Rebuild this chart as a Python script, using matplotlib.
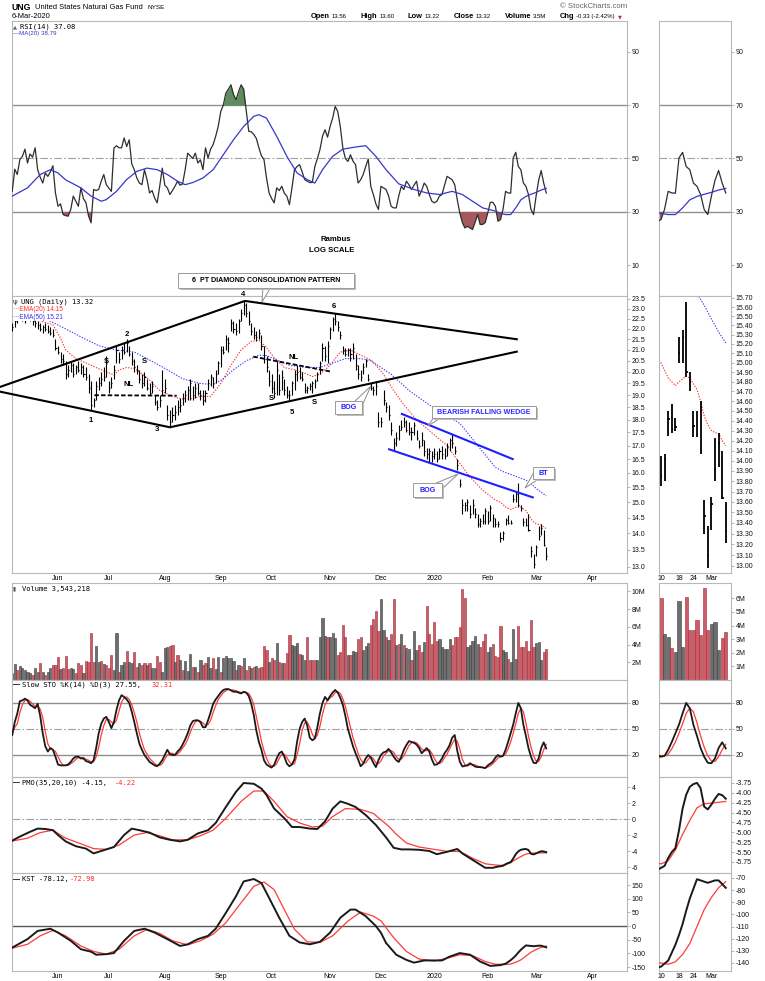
import numpy as np
import matplotlib
matplotlib.use("Agg")
import matplotlib.pyplot as plt
from matplotlib.patches import Rectangle, Polygon
from matplotlib.ticker import NullLocator

W, H = 765, 981
plt.rcParams['font.family'] = ['Liberation Sans', 'DejaVu Sans']
plt.rcParams['axes.unicode_minus'] = False

# trading-day index: 0 = 3-Jun-2019, first bar 18 sessions earlier, last bar 6-Mar-2020
first_bar = -18

highs = [
    # May 2019
    22.3, 22.5, 22.7, 22.9, 22.8, 22.7, 22.9, 22.8, 22.6, 22.5, 22.4, 22.3, 22.2, 22.3, 22.2, 22.1, 22.0, 21.5,
    # Jun
    21.2, 20.9, 20.8, 20.5, 20.3, 20.5, 20.4, 20.3, 20.5, 20.4, 20.3, 20.2, 19.9, 19.6, 18.9, 19.6, 19.8, 20.0, 20.2, 20.7,
    # Jul
    19.6, 19.8, 20.3, 21.2, 20.9, 21.2, 21.3, 21.5, 21.2, 20.9, 20.6, 20.3, 20.1, 19.9, 20.0, 19.7, 19.5, 19.6, 19.0, 18.8, 19.0, 20.1,
    # Aug
    19.7, 18.6, 18.4, 18.5, 18.6, 18.8, 18.9, 19.1, 19.2, 19.4, 19.7, 19.4, 19.5, 19.5, 19.2, 19.2, 19.2, 19.7, 19.9, 19.8, 20.1, 20.5,
    # Sep
    21.2, 21.2, 21.7, 21.6, 22.5, 22.4, 22.3, 22.5, 23.0, 23.4, 23.3, 22.9, 22.3, 22.1, 21.9, 22.0, 21.7, 21.2, 20.7, 20.1,
    # Oct
    19.9, 19.6, 20.5, 19.9, 20.1, 19.7, 19.4, 19.2, 19.6, 20.1, 20.3, 20.2, 20.0, 19.5, 19.4, 19.5, 19.6, 19.7, 20.0, 20.5, 21.3, 21.2, 21.4,
    # Nov
    22.1, 22.6, 22.8, 22.4, 21.9, 21.2, 21.1, 21.1, 21.1, 21.3, 20.8, 20.3, 20.1, 20.4, 20.6, 19.9, 19.5, 19.4, 19.6, 18.3,
    # Dec
    18.1, 19.2, 18.7, 18.6, 17.9, 17.3, 17.5, 17.8, 18.0, 18.1, 18.0, 17.9, 17.7, 17.9, 17.6, 17.2, 17.5, 17.2, 16.9, 16.9, 16.8,
    # Jan 2020
    16.9, 16.8, 16.9, 17.0, 16.9, 17.1, 17.3, 17.45, 17.0, 16.5, 15.8, 15.1, 15.0, 15.1, 14.9, 15.1, 14.8, 14.6, 14.5, 14.6, 14.8,
    # Feb
    14.7, 14.9, 14.6, 14.5, 14.4, 14.05, 14.07, 14.5, 14.57, 14.43, 15.27, 15.35, 15.66, 14.9, 14.5, 14.5, 14.6, 13.62, 13.37,
    # Mar
    13.65, 14.23, 14.28, 14.1, 13.6]

lows = [
    21.9, 22.1, 22.3, 22.5, 22.4, 22.3, 22.5, 22.4, 22.2, 22.1, 22.0, 21.9, 21.8, 21.9, 21.8, 21.7, 21.6, 21.0,
    20.8, 20.4, 20.3, 19.7, 19.8, 20.0, 19.8, 19.9, 20.0, 19.9, 19.8, 19.65, 19.1, 18.4, 18.5, 18.8, 19.2, 19.4, 19.6, 19.8,
    19.1, 19.3, 19.7, 20.4, 20.4, 20.6, 20.8, 20.9, 20.7, 20.3, 20.0, 19.9, 19.5, 19.3, 19.4, 19.2, 19.0, 19.1, 18.6, 18.4, 18.5, 19.0,
    19.1, 18.0, 17.7, 17.9, 18.0, 18.2, 18.3, 18.6, 18.7, 18.8, 18.8, 18.8, 18.9, 19.0, 18.8, 18.6, 18.7, 19.2, 19.4, 19.3, 19.5, 19.9,
    20.2, 20.8, 21.0, 20.9, 21.9, 21.8, 21.7, 21.8, 22.4, 22.7, 22.6, 22.2, 21.7, 21.5, 21.4, 21.5, 21.0, 20.4, 20.0, 19.4,
    19.1, 18.9, 19.0, 19.0, 19.2, 19.0, 18.9, 18.8, 19.0, 19.2, 19.6, 19.7, 19.6, 19.1, 19.1, 19.2, 19.1, 19.3, 19.6, 19.9, 20.5, 20.5, 20.4,
    21.5, 21.9, 22.2, 21.9, 21.5, 20.8, 20.7, 20.7, 20.5, 20.6, 20.1, 19.7, 19.6, 19.9, 20.2, 19.6, 19.2, 19.0, 19.0, 17.7,
    17.7, 18.6, 18.3, 18.0, 17.4, 16.8, 17.0, 17.2, 17.6, 17.7, 17.5, 17.4, 17.2, 17.4, 17.2, 16.9, 17.0, 16.6, 16.5, 16.4, 16.4,
    16.5, 16.4, 16.5, 16.5, 16.5, 16.6, 16.8, 16.9, 16.7, 16.1, 15.5, 14.6, 14.7, 14.7, 14.5, 14.6, 14.5, 14.2, 14.2, 14.3, 14.3,
    14.3, 14.4, 14.2, 14.2, 14.2, 13.75, 13.8, 14.25, 14.28, 14.3, 15.0, 15.0, 14.85, 14.7, 14.24, 14.24, 14.07, 13.3, 12.98,
    13.33, 13.8, 13.94, 13.63, 13.21]

closes = [
    22.1, 22.4, 22.6, 22.8, 22.5, 22.6, 22.7, 22.5, 22.4, 22.3, 22.2, 22.0, 22.1, 22.0, 21.9, 21.8, 21.7, 21.1,
    20.9, 20.6, 20.5, 19.9, 20.1, 20.3, 19.9, 20.2, 20.1, 20.2, 19.9, 19.8, 19.3, 18.6, 18.8, 19.4, 19.5, 19.7, 19.8, 20.4,
    19.3, 19.5, 20.1, 21.0, 20.6, 21.0, 20.9, 21.3, 20.8, 20.5, 20.2, 20.1, 19.7, 19.5, 19.8, 19.3, 19.1, 19.4, 18.7, 18.5, 18.8, 19.2,
    19.3, 18.2, 17.9, 18.2, 18.3, 18.5, 18.6, 18.9, 19.0, 19.2, 19.5, 19.0, 19.3, 19.1, 19.0, 18.8, 19.1, 19.5, 19.8, 19.5, 19.9, 20.4,
    21.0, 20.9, 21.5, 21.3, 22.3, 22.0, 21.9, 22.4, 22.8, 23.2, 22.8, 22.4, 21.9, 21.7, 21.6, 21.8, 21.2, 20.6, 20.2, 19.6,
    19.3, 19.1, 20.1, 19.2, 19.8, 19.2, 19.0, 19.0, 19.5, 19.9, 20.0, 19.8, 19.7, 19.2, 19.3, 19.4, 19.5, 19.6, 19.9, 20.4, 21.1, 20.7, 21.2,
    22.0, 22.5, 22.4, 22.1, 21.7, 21.0, 20.8, 21.0, 20.8, 21.1, 20.3, 19.9, 19.8, 20.2, 20.5, 19.7, 19.3, 19.2, 19.4, 17.9,
    17.9, 18.8, 18.5, 18.2, 17.6, 17.1, 17.3, 17.6, 17.7, 17.9, 17.6, 17.5, 17.5, 17.8, 17.3, 17.0, 17.2, 16.8, 16.7, 16.8, 16.6,
    16.7, 16.5, 16.8, 16.7, 16.6, 17.0, 17.2, 17.1, 16.8, 16.3, 15.6, 14.9, 14.9, 15.0, 14.6, 14.9, 14.6, 14.3, 14.4, 14.4, 14.7,
    14.4, 14.8, 14.5, 14.3, 14.3, 13.85, 14.02, 14.42, 14.32, 14.34, 15.1, 15.27, 14.9, 14.8, 14.35, 14.27, 14.1, 13.47, 13.1,
    13.58, 13.92, 14.18, 13.64, 13.32]

# volume in millions of shares, and bar colour (g = up day, r = down day)
volume = [
    0.75, 1.77, 1.13, 1.58, 1.32, 1.13, 0.94, 0.75, 0.56, 1.39, 0.94, 1.88, 0.94, 0.56, 0.94, 1.32, 1.69, 1.69,
    2.63, 1.2, 1.32, 2.7, 1.24, 1.32, 1.24, 0.75, 1.88, 1.69, 0.75, 2.18, 2.0, 5.34, 2.07, 3.87, 2.0, 2.14, 1.77, 1.69,
    1.32, 2.8, 1.13, 5.34, 0.94, 1.69, 2.0, 3.3, 2.0, 1.88, 3.1, 1.5, 1.88, 1.69, 1.88, 1.69, 1.88, 1.39, 1.32, 2.74, 2.0, 0.94,
    3.57, 3.76, 3.83, 3.95, 2.0, 2.82, 2.26, 1.13, 2.14, 1.05, 2.9, 1.5, 1.5, 0.94, 2.26, 1.69, 1.88, 2.63, 1.32, 2.44, 1.2, 2.63,
    0.94, 2.44, 2.7, 2.52, 2.44, 2.14, 1.13, 1.69, 1.58, 2.44, 1.13, 1.58, 1.32, 1.5, 1.58, 1.32, 1.5, 3.87, 3.38, 2.0,
    2.44, 2.26, 4.14, 2.0, 1.88, 1.88, 3.0, 5.08, 3.95, 3.83, 4.14, 2.9, 2.82, 2.26, 4.9, 2.26, 2.26, 2.26, 2.26, 4.9, 6.95, 4.96, 4.9,
    4.8, 5.34, 4.7, 2.82, 3.2, 6.2, 4.8, 2.82, 2.82, 3.27, 3.2, 4.6, 4.9, 3.38, 3.83, 4.14, 6.2, 6.84, 7.8, 5.5,
    9.1, 5.6, 4.9, 4.5, 5.2, 9.1, 3.95, 4.1, 5.2, 3.95, 3.57, 3.5, 2.2, 5.5, 3.4, 3.95, 3.2, 4.25, 8.3, 5.2, 4.1,
    6.5, 4.4, 4.6, 3.7, 3.5, 3.5, 4.6, 3.9, 4.85, 4.9, 6.0, 10.3, 9.2, 3.7, 3.9, 4.4, 5.0, 4.1, 3.7, 4.4, 5.2,
    3.2, 3.7, 4.1, 2.7, 2.6, 6.04, 3.4, 3.14, 2.33, 2.03, 5.8, 2.4, 6.1, 3.7, 3.69, 4.43, 3.32, 6.73, 3.71,
    4.13, 4.3, 2.23, 3.12, 3.54]
vol_dir = ("ggrgggggrggrgrggrr" "rgrrrggrrrgrrrrggrgr" "rrggrggrggrrgrrgrggrrg"
           "ggrrgrgrgggrgrgrrggrgg" "rgggggrgrgrrgrgrrrrg" "rrgrgrrrgggrggrrrrggggr"
           "gggrrrrgrggrrgggrrrr" "ggrgrrgrgrggrggrrgrrr" "rrgggggrrrrrrgggggrrr"
           "ggrrrrggrgggrrrrrrr" "gggrr")

rsi = [
    37.7, 46, 44, 49.6, 50.8, 53.5, 48.3, 51.7, 50.5, 54, 45.8, 43, 40.8, 44.6, 43.3, 45, 47.3, 37.1,
    32.1, 33, 29, 28.6, 28.4, 30.9, 35.9, 34, 32.1, 39, 35, 33.4, 28.5, 25.9, 38.4, 38, 38.4, 41.5, 44, 40.2,
    38.9, 37.7, 53.9, 54.8, 54, 54, 57.7, 54.5, 57, 48, 45.8, 42.7, 40.8, 40.2, 45.8, 42.1, 37.1, 38, 35.2, 33.4, 39.6, 46.4,
    40, 39, 36.5, 38, 39.6, 41.5, 40, 40.5, 45.8, 52, 51, 50, 52, 48.3, 49.5, 45.8, 54, 50.2, 53.5, 55.2, 58.3, 62,
    67.6, 70, 74.5, 76, 77.6, 74, 72, 75, 77.6, 76, 68, 60.2, 60, 59, 57.5, 54, 51, 49.6, 42.7, 37.1,
    35, 33.4, 39, 38, 39.6, 37, 35.9, 32.7, 39, 45.8, 47, 47.7, 45, 42.1, 41.5, 41, 41, 47, 50, 53.3, 58.3, 60.8, 58,
    62, 65.1, 69.5, 67.6, 62, 54, 50, 48.9, 51.4, 49, 47.7, 40.8, 42, 44, 47, 49.8, 39.6, 36.5, 33, 30.9,
    39.6, 39, 38.4, 36, 32.1, 31.5, 31.5, 36, 39.6, 38.4, 41.5, 40.2, 38.4, 40, 41.5, 35.9, 38, 40.8, 39.6, 36.5, 34,
    33.4, 34, 35.9, 36.5, 40, 43.3, 42.7, 42, 40.2, 34.6, 29.6, 26, 24, 24.6, 24, 23.4, 26, 29, 25.3, 25.3, 26,
    29.6, 33.6, 33.6, 32.1, 26.5, 27.1, 31, 37.7, 37.1, 37, 50.2, 52.3, 47, 45.8, 40.8, 39.6, 36.5, 30.9, 29,
    35.9, 41.8, 45.5, 40.8, 37.08]
rsi_ma_idx = [-18, -12, -7, -3, 0, 3, 9, 13, 17, 19, 23, 27, 31, 35, 39, 43, 47, 50, 53, 57,
              61, 65, 69, 73, 77, 79, 82, 86, 90, 94, 98, 101, 104, 108, 112, 117, 121, 125, 129, 134,
              140, 145, 150, 155, 159, 163, 167, 172, 174, 176, 178, 180, 182, 184, 186, 188, 190, 192]
rsi_ma = [35.9, 39, 44, 45.8, 44.6, 42, 39, 35.9, 34, 34.6, 37.7, 42.1, 45.2, 46.4, 45.8, 44, 41.5, 40.2, 41, 42.7,
          45.8, 51.4, 57, 62, 65.8, 66.4, 65.1, 58.3, 50.8, 44.6, 42.1, 40.8, 45.8, 50.8, 53.5, 54.3, 54.8, 50.8, 45.8, 40.5,
          38.4, 37.1, 36.5, 37.7, 36.5, 34, 31.5, 30.3, 29.4, 29.0, 29.0, 31.5, 34.5, 35.8, 36.6, 37.3, 38.2, 38.79]

ema20_idx = [-18, -12, -6, -2, 1, 3, 7, 11, 15, 19, 22, 24, 27, 30, 32, 36, 40, 44, 48, 52,
             56, 60, 64, 68, 72, 76, 79, 82, 85, 89, 93, 97, 100, 103, 107, 111, 115, 119, 123, 125,
             128, 132, 136, 141, 148, 153, 157, 162, 167, 172, 174, 176, 178, 179, 180, 181, 182, 183,
             184, 185, 186, 187, 188, 189, 190, 191, 192]
ema20 = [22.6, 22.6, 22.35, 22.2, 21.55, 21.0, 20.6, 20.4, 20.2, 20.0, 19.87, 20.09, 20.2, 20.15, 20.0, 19.65, 19.2, 19.0, 18.85, 18.85,
         18.95, 18.95, 19.5, 20.3, 21.0, 21.4, 21.46, 21.1, 20.65, 20.2, 20.1, 19.95, 19.8, 19.9, 20.3, 20.9, 20.99, 20.76, 20.54, 20.3,
         19.9, 19.2, 18.6, 18.0, 17.4, 17.0, 16.47, 15.86, 15.4, 15.07, 15.0, 14.84, 14.76, 14.8, 14.83, 14.86, 14.84, 14.78,
         14.72, 14.6, 14.45, 14.36, 14.3, 14.28, 14.27, 14.2, 14.15]
ema50_idx = [-18, -10, -5, 3, 10, 16, 23, 30, 36, 43, 49, 56, 61, 65, 69, 74, 79, 82, 86, 91,
             98, 103, 108, 113, 119, 123, 127, 131, 138, 146, 154, 158, 163, 168, 172, 175, 178, 181, 184, 186,
             188, 190, 192]
ema50 = [22.9, 22.7, 22.5, 22.0, 21.55, 21.2, 20.99, 20.9, 20.54, 20.1, 19.7, 19.5, 19.45, 19.7, 20.1, 20.5, 20.76, 20.74, 20.54, 20.3,
         20.2, 20.2, 20.4, 20.6, 20.6, 20.5, 20.2, 19.9, 19.2, 18.6, 18.1, 17.85, 17.25, 16.65, 16.2, 16.05, 15.95, 15.85, 15.75, 15.62,
         15.47, 15.33, 15.21]

sto_k = [
    43, 58, 68, 82, 83, 85, 83, 78, 76, 74, 79, 65, 45, 30, 24, 28, 26, 18,
    9, 8, 8, 8, 9, 12, 16, 18, 18, 16, 16, 13, 12, 10.5, 14, 28, 45, 56, 62, 64,
    58, 51, 58, 72, 83, 89, 87, 84, 80, 70, 58, 45, 33, 26, 20, 16, 12, 10, 8, 7, 10, 14,
    20, 26, 21, 20, 20, 24, 27, 32, 38, 45, 54, 59, 60, 60, 58, 52, 52, 60, 69, 79, 84, 88,
    92, 95, 96, 96, 94.5, 93, 93, 92, 91, 93, 92, 88, 79, 66, 48, 35, 26, 14, 9, 7,
    5.5, 8.6, 16, 22, 24, 18, 10, 7, 9, 15, 35, 50, 58, 62, 54, 40, 37, 39, 52, 68, 80, 87, 83,
    88, 92, 95, 92, 86, 78, 65, 50, 40, 30, 22, 15, 7, 10, 16, 20, 17, 11, 6, 14,
    20, 23, 24, 27, 23, 18, 14, 12, 18, 26, 31.5, 36, 35, 34, 32, 28, 22, 25, 28, 24, 15,
    8.6, 9, 11.6, 16, 22, 26, 31.5, 40, 43, 25, 12.4, 6.7, 7.5, 8, 10.5, 8.6, 6.7, 6, 6, 5.5, 4.8,
    8, 10, 12.4, 17, 20, 18, 19, 26, 35, 45, 55, 68, 80, 74, 55, 42, 28, 18, 11,
    10.5, 16, 28, 34.6, 27.55]
sto_d = [
    45, 52, 56, 69, 78, 83, 84, 82, 79, 76, 76, 73, 63, 47, 33, 27, 26, 24,
    18, 12, 8, 8, 8, 10, 12, 15, 17, 17, 17, 15, 14, 12, 12, 18, 29, 43, 54, 61,
    61, 58, 56, 60, 71, 81, 86, 87, 84, 78, 69, 58, 45, 35, 26, 21, 16, 13, 10, 8, 8, 10,
    15, 20, 22, 22, 20, 21, 24, 28, 32, 38, 46, 53, 58, 60, 59, 57, 54, 55, 60, 69, 77, 84,
    88, 92, 94, 96, 95, 95, 94, 93, 92, 92, 92, 91, 86, 78, 64, 50, 36, 25, 16, 10,
    7, 7, 10, 16, 21, 21, 17, 12, 9, 10, 20, 33, 48, 57, 58, 52, 44, 39, 43, 53, 67, 78, 83,
    86, 88, 92, 93, 91, 85, 76, 64, 52, 40, 31, 22, 15, 11, 11, 15, 18, 16, 11, 10,
    13, 19, 22, 25, 25, 23, 18, 15, 15, 19, 25, 31, 34, 35, 34, 31, 27, 25, 25, 26, 22,
    16, 11, 10, 12, 17, 21, 27, 33, 38, 36, 27, 15, 9, 7.5, 8.7, 9, 8.6, 7, 6.2, 5.8, 5.4,
    6, 7.6, 10, 13, 16.5, 18.5, 19, 21, 27, 35, 45, 56, 68, 74, 70, 57, 42, 29, 19,
    13, 12.5, 18, 26, 32.31]

pmo_idx = [-18, -15, -11, -8, -5, -2, 0, 3, 7, 11, 14, 18, 22, 26, 29, 32, 36, 40, 44, 48,
           51, 55, 59, 62, 66, 70, 73, 77, 80, 82, 85, 89, 92, 95, 99, 102, 105, 108, 111, 114,
           117, 121, 125, 129, 132, 135, 138, 142, 146, 149, 153, 157, 159, 162, 165, 168, 171, 173, 174, 175,
           176, 177, 178, 179, 180, 181, 182, 183, 184, 185, 186, 187, 188, 189, 190, 191, 192]
pmo = [-2.7, -2.2, -1.6, -1.2, -1.25, -1.4, -2.0, -2.8, -3.4, -3.7, -4.3, -3.9, -3.5, -2.0, -1.2, -1.4, -1.7, -2.3, -2.6, -2.8,
       -2.6, -1.8, -1.4, -0.5, 1.5, 3.4, 4.5, 4.4, 3.8, 3.0, 1.3, 0.1, -1.0, -1.0, -1.2, -1.25, -0.3, 1.3, 2.2, 1.9,
       1.5, 0.5, -0.75, -2.3, -3.6, -3.8, -3.8, -3.85, -4.0, -4.4, -4.1, -3.75, -4.3, -4.9, -5.5, -6.1, -6.1, -5.95, -5.9, -5.85,
       -5.65, -5.5, -5.4, -4.95, -4.4, -4.05, -3.85, -3.78, -3.75, -3.88, -4.35, -4.42, -4.3, -4.15, -4.03, -4.06, -4.15]
pmo_sig_idx = [-18, -12, -7, -2, 3, 9, 14, 19, 24, 30, 35, 40, 45, 51, 56, 61, 66, 72, 77, 81,
               85, 90, 95, 100, 104, 108, 113, 119, 124, 127, 130, 133, 137, 142, 148, 153, 158, 163, 168, 172,
               174, 176, 178, 180, 182, 184, 186, 188, 190, 192]
pmo_sig = [-2.75, -2.4, -1.7, -1.4, -2.4, -3.1, -3.7, -3.8, -3.25, -2.0, -1.7, -2.1, -2.6, -2.6, -2.1, -1.4, 0.1, 2.2, 3.5, 3.5,
           2.2, 0.3, -0.5, -1.0, -0.9, 0.3, 1.3, 1.2, 0.7, -0.1, -0.9, -1.9, -3.0, -3.5, -3.8, -4.05, -4.05, -4.9, -5.6, -5.75,
           -5.8, -5.72, -5.45, -5.05, -4.7, -4.38, -4.28, -4.26, -4.24, -4.22]

kst_idx = [-18, -12, -8, -3, 0, 5, 9, 13, 15, 19, 22, 26, 30, 34, 38, 43, 48, 51, 55, 59,
           62, 66, 70, 73, 77, 80, 83, 87, 91, 95, 99, 103, 107, 111, 115, 117, 121, 125, 127, 129,
           133, 137, 140, 144, 148, 151, 154, 158, 162, 166, 170, 174, 176, 178, 179, 180, 181, 182, 183, 184,
           185, 186, 187, 188, 189, 190, 191, 192]
kst = [-79, -48, -18, -10, -24, -54, -85, -94, -105, -103, -99, -54, -18, -10, -24, -48, -73, -67, -48, -36,
       -10, 48, 109, 163, 172, 157, 103, 30, -36, -60, -67, -58, -24, 30, 60, 60, 36, 0, -25, -62,
       -105, -124, -134, -126, -126, -126, -112, -99, -105, -130, -146, -143, -138, -125, -117, -108, -97, -87, -79, -71,
       -72, -73, -74, -73, -72, -72, -75, -78.12]
kst_sig_idx = [-18, -12, -7, -2, 3, 9, 14, 19, 24, 30, 35, 40, 45, 51, 56, 61, 66, 72, 77, 81,
               85, 89, 93, 98, 103, 108, 114, 119, 124, 127, 132, 137, 142, 148, 153, 158, 163, 168, 172, 174,
               176, 178, 180, 182, 184, 186, 188, 190, 192]
kst_sig = [-81, -67, -36, -16, -36, -73, -93, -103, -85, -36, -12, -27, -54, -69, -54, -30, 12, 85, 145, 161,
           133, 60, -12, -58, -60, -36, 18, 51, 36, 19, -43, -93, -121, -128, -118, -105, -108, -130, -140, -140,
           -141, -139, -133, -124, -110, -96, -86, -78, -72.98]

month_pos = [0, 20, 42, 64, 84, 107, 127, 148, 169, 188, 210]
month_lbl = ['Jun', 'Jul', 'Aug', 'Sep', 'Oct', 'Nov', 'Dec', '2020', 'Feb', 'Mar', 'Apr']
mini_pos = [174, 179, 183, 188]
mini_lbl = ['10', '18', '24', 'Mar']

quote = [('Open', '13.56'), ('High', '13.60'), ('Low', '13.22'), ('Close', '13.32'),
         ('Volume', '3.5M'), ('Chg', '-0.33 (-2.42%)')]

# chartist annotations (trading-day index, price)
diamond_top = [(-22.8, 19.35), (73.5, 23.40), (180.4, 21.50)]
diamond_bot = [(-22.8, 19.15), (44.0, 17.70), (180.4, 20.92)]
necklines = [[(14.3, 19.0), (46.7, 18.98)], [(76.8, 20.69), (107.6, 20.01)]]
wedge = [[(135.2, 18.23), (178.8, 16.50)], [(130.2, 16.86), (186.7, 15.16)]]

# ---------------------------------------------------------------------------
idx = np.arange(first_bar, first_bar + len(closes))
highs, lows, closes = np.array(highs), np.array(lows), np.array(closes)
rsi = np.array(rsi)

fig = plt.figure(figsize=(W / 100, H / 100), dpi=100)
fig.patch.set_facecolor('white')

rows = {'rsi': (21, 296), 'price': (296, 573), 'vol': (583, 680),
        'sto': (680, 777), 'pmo': (777, 873), 'kst': (873, 971)}
MAIN = (12, 627, -18.09, 223.75)
MINI = (659, 731, 173.45, 193.45)


def ftext(x, y, s, **kw):
    kw.setdefault('ha', 'left')
    kw.setdefault('va', 'center')
    kw.setdefault('zorder', 8)
    return fig.text(x / W, 1 - y / H, s, **kw)


def add_panel(row, mini):
    y0, y1 = rows[row]
    x0, x1, xa, xb = MINI if mini else MAIN
    ax = fig.add_axes([x0 / W, 1 - y1 / H, (x1 - x0) / W, (y1 - y0) / H])
    ax.set_xlim(xa, xb)
    for sp in ax.spines.values():
        sp.set_color('#b8b8b8')
        sp.set_linewidth(0.8)
    ax.yaxis.tick_right()
    ax.tick_params(axis='y', which='both', labelsize=5, length=2, width=0.5, pad=1.5,
                   color='#999999', labelcolor='#111111')
    ax.tick_params(axis='x', which='both', length=0, labelbottom=False)
    return ax


def yticks(ax, vals, fmt):
    ax.set_yticks(vals)
    ax.set_yticklabels([fmt.format(v) for v in vals])
    ax.yaxis.set_minor_locator(NullLocator())


def xdates(ax, mini):
    pos, lbl = (mini_pos, mini_lbl) if mini else (month_pos, month_lbl)
    bold = 'Mar' if mini else '2020'
    ax.set_xticks(pos)
    labels = ax.set_xticklabels(lbl)
    ax.tick_params(axis='x', labelbottom=True, labelsize=5, pad=1.2, length=0)
    for t in labels:
        if t.get_text() == bold:
            t.set_fontweight('bold')


def hline(ax, y, dashdot=False, color='#8f8f8f'):
    if dashdot:
        ax.axhline(y, color='#a0a0a0', lw=0.8, ls=(0, (7, 2, 1.5, 2)), zorder=1)
    else:
        ax.axhline(y, color=color, lw=1.0, zorder=1)


for mini in (False, True):
    # RSI
    ax = add_panel('rsi', mini)
    ax.fill_between(idx, rsi, 70, where=rsi >= 70, interpolate=True, color='#5e8c5e', lw=0, zorder=2)
    ax.fill_between(idx, rsi, 30, where=rsi <= 30, interpolate=True, color='#a5595c', lw=0, zorder=2)
    hline(ax, 70)
    hline(ax, 30)
    hline(ax, 50, dashdot=True)
    ax.plot(idx, rsi, color='#2e2e2e', lw=0.9, zorder=3)
    ax.plot(rsi_ma_idx, rsi_ma, color='#3737c8', lw=0.9, zorder=3)
    ax.set_ylim(-1.5, 101.5)
    yticks(ax, [10, 30, 50, 70, 90], '{}')

    # price
    ax = add_panel('price', mini)
    ax.set_yscale('log')
    lw = 1.3 if mini else 0.8
    tick = 0.38 if mini else 0.42
    ax.vlines(idx, lows, highs, color='black', lw=lw, zorder=3)
    ax.hlines(closes, idx, idx + tick, color='black', lw=lw, zorder=3)
    ax.plot(ema20_idx, ema20, color='#ff3030', lw=0.8, ls=(0, (1.2, 1.3)), zorder=2)
    ax.plot(ema50_idx, ema50, color='#3a3aff', lw=0.8, ls=(0, (1.2, 1.3)), zorder=2)
    if mini:
        ax.set_ylim(12.936, 15.722)
        yticks(ax, [round(13.0 + 0.1 * k, 2) for k in range(28)], '{:.2f}')
    else:
        ax.set_ylim(12.828, 23.656)
        yticks(ax, [13.0 + 0.5 * k for k in range(22)], '{:.1f}')
        for line in (diamond_top, diamond_bot):
            xs, ys = zip(*line)
            ax.plot(xs, ys, color='black', lw=1.5, clip_on=False, zorder=4)
        for line in necklines:
            xs, ys = zip(*line)
            ax.plot(xs, ys, color='black', lw=1.3, ls=(0, (2.5, 1.2)), zorder=4)
        for line in wedge:
            xs, ys = zip(*line)
            ax.plot(xs, ys, color='#1f1fff', lw=1.5, zorder=4)
    xdates(ax, mini)

    # volume
    ax = add_panel('vol', mini)
    fc = ['#6e6e6e' if d == 'g' else '#cd5c67' for d in vol_dir]
    ec = ['#3c3c3c' if d == 'g' else '#9b2d3b' for d in vol_dir]
    ax.bar(idx, volume, width=0.86, color=fc, edgecolor=ec, lw=0.4, zorder=2)
    if mini:
        ax.set_ylim(0, 7.13)
        yticks(ax, [1, 2, 3, 4, 5, 6], '{}M')
    else:
        ax.set_ylim(0, 10.93)
        yticks(ax, [2, 4, 6, 8, 10], '{}M')

    # slow stochastic
    ax = add_panel('sto', mini)
    hline(ax, 80)
    hline(ax, 20)
    hline(ax, 50, dashdot=True)
    ax.plot(idx, sto_d, color='#ff3a3a', lw=0.9, zorder=3)
    ax.plot(idx, sto_k, color='#1a1a1a', lw=1.3, zorder=4)
    ax.set_ylim(-5.4, 106.5)
    yticks(ax, [20, 50, 80], '{}')

    # PMO
    ax = add_panel('pmo', mini)
    hline(ax, 0, dashdot=True)
    ax.plot(pmo_sig_idx, pmo_sig, color='#ff3a3a', lw=0.9, zorder=3)
    ax.plot(pmo_idx, pmo, color='#1a1a1a', lw=1.4, zorder=4)
    if mini:
        ax.set_ylim(-6.03, -3.60)
        yticks(ax, [-5.75, -5.5, -5.25, -5.0, -4.75, -4.5, -4.25, -4.0, -3.75], '{:.2f}')
    else:
        ax.set_ylim(-6.75, 5.25)
        yticks(ax, [-6, -4, -2, 0, 2, 4], '{}')

    # KST
    ax = add_panel('kst', mini)
    ax.plot(kst_sig_idx, kst_sig, color='#ff3a3a', lw=0.9, zorder=3)
    ax.plot(kst_idx, kst, color='#1a1a1a', lw=1.4, zorder=4)
    if mini:
        ax.set_ylim(-146.6, -65.9)
        yticks(ax, [-140, -130, -120, -110, -100, -90, -80, -70], '{}')
    else:
        hline(ax, 0, color='#555555')
        ax.set_ylim(-164.6, 193.9)
        yticks(ax, [-150, -100, -50, 0, 50, 100, 150], '{}')
    xdates(ax, mini)

# ---- header ----
ftext(12, 7.5, 'UNG', weight='bold', fontsize=6.3)
ftext(35, 7.8, 'United States Natural Gas Fund', fontsize=5.4)
ftext(147, 7.8, 'NYSE', fontsize=4.6)
ftext(627, 6.5, '\u00a9 StockCharts.com', ha='right', fontsize=5.6, color='#666666')
ftext(12, 16.5, '6-Mar-2020', fontsize=5.4)

# quote line: bold labels + small values spread between x=311 and x=615
renderer = fig.canvas.get_renderer()
pieces = []
for lab, val in quote:
    pieces.append(ftext(0, 16.5, lab, fontsize=5.4, weight='bold'))
    pieces.append(ftext(0, 16.7, val, fontsize=4.3))
widths = [p.get_window_extent(renderer=renderer).width for p in pieces]
small_gap = 2.0
big_gap = (615 - 311 - sum(widths) - small_gap * len(quote)) / (len(quote) - 1)
x = 311.0
for k, (p, w) in enumerate(zip(pieces, widths)):
    p.set_x(x / W)
    x += w + (small_gap if k % 2 == 0 else big_gap)
ftext(617.5, 16.5, '\u25bc', fontsize=3.6, color='#cc2233', family='DejaVu Sans')

# ---- panel legends ----
MONO = 'DejaVu Sans Mono'
ftext(13, 26.5, '\u25b2', fontsize=3.8, color='#3f7a3f', family='DejaVu Sans')
ftext(19.5, 26.5, 'RSI(14) 37.08', family=MONO, fontsize=5.1)
ftext(13, 33.5, '\u2014MA(20) 38.79', fontsize=4.4, color='#3737c8')

fig.add_artist(Rectangle((13 / W, 1 - 321 / H), 84 / W, 24 / H, transform=fig.transFigure,
                         fc='white', ec='none', zorder=1))
ftext(13, 301.7, '\u03c8', fontsize=5, color='#333333', family='DejaVu Sans')
ftext(21, 301.7, 'UNG (Daily) 13.32', family=MONO, fontsize=5.1)
ftext(13, 309.3, '\u00b7\u00b7\u00b7EMA(20) 14.15', fontsize=4.7, color='#ff2f2f')
ftext(13, 317.5, '\u00b7\u00b7\u00b7EMA(50) 15.21', fontsize=4.7, color='#3535f0')

ftext(13, 588.5, '\u25ae', fontsize=4, color='#555555', family='DejaVu Sans')
ftext(22, 588.5, 'Volume 3,543,218', family=MONO, fontsize=5.1)

for y, s, red, xr in [(685.0, 'Slow STO %K(14) %D(3) 27.55,', '32.31', 151.5),
                      (782.7, 'PMO(35,20,10) -4.15,', '-4.22', 115.0),
                      (879.3, 'KST -78.12,', '-72.98', 69.3)]:
    ftext(13, y, '\u2014', fontsize=5, weight='bold')
    ftext(22.5, y, s, family=MONO, fontsize=5.1)
    ftext(xr, y, red, family=MONO, fontsize=5.1, color='#ff2a2a')

# ---- chart labels ----
ftext(336, 240, 'Rambus', ha='center', weight='bold', fontsize=5.6)
ftext(331.5, 250.5, 'LOG SCALE', ha='center', weight='bold', fontsize=5.6)
for x, y, s in [(91, 420, '1'), (127, 335, '2'), (157, 430, '3'), (243.5, 294, '4'),
                (292, 412, '5'), (334, 306, '6'), (106, 361, 'S'), (144, 361.5, 'S'),
                (129, 384.5, 'NL'), (271, 399, 'S'), (314, 403, 'S'), (293.5, 357.5, 'NL')]:
    ftext(x, y, s, ha='center', weight='bold', fontsize=5.6, zorder=6)


def callout(x0, y0, x1, y1, text, color, tail):
    fig.add_artist(Polygon([(px / W, 1 - py / H) for px, py in tail], closed=True,
                           transform=fig.transFigure, fc='white', ec='#8c8c8c', lw=0.7, zorder=5))
    fig.add_artist(Rectangle(((x0 + 2) / W, 1 - (y1 + 2) / H), (x1 - x0) / W, (y1 - y0) / H,
                             transform=fig.transFigure, fc='#bdbdbd', ec='none', zorder=5.2))
    fig.add_artist(Rectangle((x0 / W, 1 - y1 / H), (x1 - x0) / W, (y1 - y0) / H,
                             transform=fig.transFigure, fc='white', ec='#9a9a9a', lw=0.7, zorder=5.4))
    ftext((x0 + x1) / 2, (y0 + y1) / 2 + 0.3, text, ha='center', weight='bold', fontsize=5.1,
          color=color, zorder=9)


callout(178, 273, 354, 288, '6  PT DIAMOND CONSOLIDATION PATTERN', 'black',
        [(263, 287), (271, 287), (262, 302)])
callout(335, 401, 362, 414, 'BOG', '#1f1fff', [(354, 402), (361, 408), (371, 386)])
callout(432, 406, 536, 418, 'BEARISH FALLING WEDGE', '#2a2aff', [(434, 417), (442, 417), (428, 426)])
callout(413, 483, 442, 497, 'BOG', '#1f1fff', [(434, 484), (441, 490), (458, 474)])
callout(533, 467, 554, 479, 'BT', '#1f1fff', [(534, 472), (540, 478), (525, 488)])

fig.savefig('out.png', dpi=100)
